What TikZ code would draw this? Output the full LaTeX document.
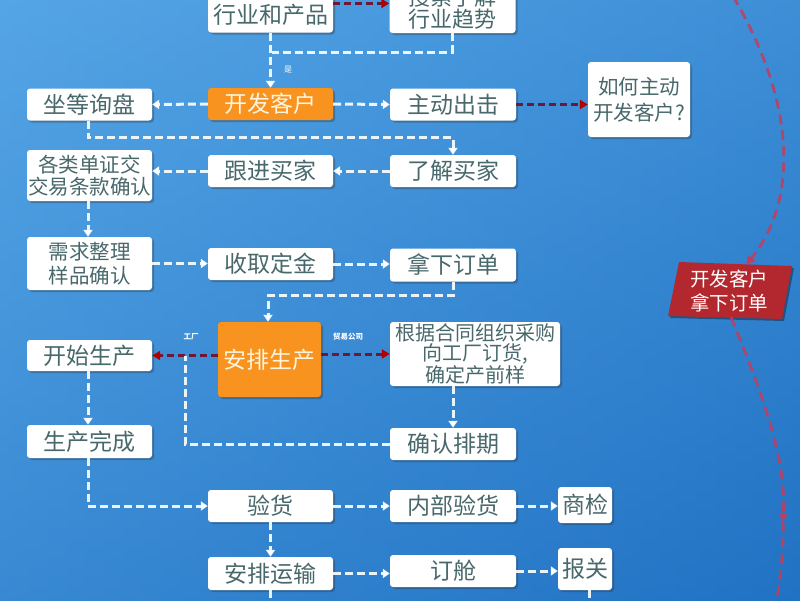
\documentclass[tikz,border=0pt]{standalone}
\usepackage{fontspec}
\newfontfamily\cjk{Noto Sans CJK SC}
\usetikzlibrary{arrows.meta,shadows,calc}
\definecolor{txt}{HTML}{48686B}
\definecolor{orng}{HTML}{F7931E}
\definecolor{otxt}{HTML}{FFF4DE}
\definecolor{dred}{HTML}{6E1838}
\definecolor{cred}{HTML}{C43C5C}
\definecolor{rboxc}{HTML}{B3282E}
\definecolor{bgL}{HTML}{4FA2E4}
\definecolor{bgR}{HTML}{2478C8}
\definecolor{bgT}{HTML}{5CAAE8}
\definecolor{bgB}{HTML}{1D6BBE}
\tikzset{
  box/.style={fill=white, rounded corners=3pt, minimum width=125pt, minimum height=32pt,
    inner sep=0pt, font=\cjk\fontsize{23}{24}\selectfont, text=txt, align=center,
    drop shadow={shadow xshift=2pt, shadow yshift=-2pt, opacity=0.35, fill=black!80}},
  two/.style={font=\cjk\fontsize{20.5}{22}\selectfont},
  obox/.style={box, fill=orng, text=otxt},
  tip/.style={-{Triangle[length=7pt,width=9pt]}},
  flow/.style={draw=white, draw opacity=0.9, line width=3pt, dash pattern=on 8pt off 4pt, tip},
  flowl/.style={draw=white, draw opacity=0.9, line width=3pt, dash pattern=on 8pt off 4pt},
  redl/.style={draw=dred, line width=3pt, dash pattern=on 7pt off 4pt,
    -{Triangle[length=8pt,width=9pt,color=red!70!black]}},
  curv/.style={draw=cred, draw opacity=0.85, line width=2.8pt, dash pattern=on 10pt off 6pt},
  small/.style={font=\cjk\bfseries\fontsize{7.5}{8}\selectfont, text=white, inner sep=0pt}
}
\begin{document}
\begin{tikzpicture}[x=1pt,y=-1pt]
\useasboundingbox (0,0) rectangle (800,600);
\clip (0,0) rectangle (800,600);
\shade[left color=bgL, right color=bgR] (0,0) rectangle (800,600);
\shade[top color=bgT, bottom color=bgB, opacity=0.45] (0,0) rectangle (800,600);

% top row (cut off)
\node[box, minimum height=58pt, font=\cjk\fontsize{23}{23}\selectfont] (b1) at (270.5,3.5) {\phantom{行业和产品}\\行业和产品};
\node[box, font=\cjk\fontsize{22}{22}\selectfont, minimum width=126pt, minimum height=50pt] (b2) at (452.5,8) {搜索了解\\行业趋势};

% row 2
\node[obox] (kf) at (270.5,104) {开发客户};
\node[box] (zd) at (89.5,104.5) {坐等询盘};
\node[box, minimum width=126pt] (zc) at (453,104.5) {主动出击};
\node[box, minimum width=102pt, minimum height=75pt, font=\cjk\fontsize{20.5}{26}\selectfont] (rh) at (639,99.5) {如何主动\\开发客户?};

% row 3
\node[box, minimum width=126pt] (lj) at (453,171) {了解买家};
\node[box] (gj) at (270.5,171) {跟进买家};
\node[box, two, minimum height=51pt] (gl) at (89.5,175.5) {各类单证交\\交易条款确认};

% row 4
\node[box, minimum height=53pt, font=\cjk\fontsize{20.5}{24}\selectfont] (xq) at (89.5,263.5) {需求整理\\样品确认};
\node[box] (sq) at (270.5,264) {收取定金};
\node[box, minimum width=126pt, minimum height=33pt] (nx) at (453,265) {拿下订单};

% row 5
\node[obox, minimum width=103pt, minimum height=75pt] (ap) at (269.5,359.5) {安排生产};
\node[box, minimum height=31pt] (ks) at (89.5,355.5) {开始生产};
\node[box, minimum width=170pt, minimum height=64pt, font=\cjk\fontsize{20}{20}\selectfont] (hj) at (475,354) {根据合同组织采购\\向工厂订货,\\确定产前样};

% row 6
\node[box, minimum width=126pt] (qr) at (453,444) {确认排期};
\node[box, minimum height=33pt] (sc) at (89.5,441.5) {生产完成};

% row 7
\node[box] (yh) at (270.5,506) {验货};
\node[box, minimum width=126pt] (nb) at (453,506) {内部验货};
\node[box, minimum width=54pt, minimum height=36pt] (sj) at (585,505) {商检};

% row 8
\node[box, minimum height=33pt] (ys) at (270.5,573.5) {安排运输};
\node[box, minimum width=126pt] (dc) at (453,571) {订舱};
\node[box, minimum width=54pt, minimum height=42pt] (bg) at (585,569) {报关};

% red box on the right
\fill[rboxc, drop shadow={shadow xshift=2pt, shadow yshift=-2pt, opacity=0.35, fill=black}]
  (679,262) -- (792,266) -- (782,319) -- (668,316) -- cycle;
\node[inner sep=0pt, minimum width=100pt, minimum height=52pt, align=center,
  font=\cjk\fontsize{19.5}{24}\selectfont, text=white] (rb) at (729,291) {开发客户\\拿下订单};

% helper coordinates
\coordinate (j1) at (272,52);
\coordinate (j2) at (185,356);
\coordinate (ctop) at (733,-4);
\coordinate (cmid) at (783,522);
\coordinate (cbot) at (776,606);

% connectors
\draw[redl] (b1.east) -- (b1.east -| b2.west);
\draw[flow] (b1.south) -- (kf.north);
\node[small, font=\cjk\fontsize{8}{8}\selectfont, text=white!80] (shi) at (288,70) {是};
\draw[flowl] (b2.south) |- (j1);
\draw[flow] (kf.west) -- (zd.east);
\draw[flow] (kf.east) -- (zc.west);
\draw[redl] (zc.east) -- (zc.east -| rh.west);
\draw[flow] ([xshift=-1.5pt]zd.south) -- ++(0,17) -| (lj.north);
\draw[flow] (lj.west) -- (gj.east);
\draw[flow] (gj.west) -- (gj.west -| gl.east);
\draw[flow] ([xshift=-1.5pt]gl.south) -- ([xshift=-1.5pt]xq.north);
\draw[flow] (xq.east) -- (xq.east -| sq.west);
\draw[flow] (sq.east) -- (sq.east -| nx.west);
\draw[flow] (nx.south) -- ++(0,14) -| ([xshift=-1.5pt]ap.north);
\draw[redl] (ap.west |- ks.east) -- (ks.east);
\draw[redl] (ap.east |- hj.west) -- (hj.west);
\node[small] (gc) at (191,337) {工厂};
\node[small] (my) at (348,337) {贸易公司};
\draw[flow] (qr.north |- hj.south) -- (qr.north);
\draw[flowl] (qr.west) -| (j2);
\draw[flow] ([xshift=-1.5pt]ks.south) -- ([xshift=-1.5pt]sc.north);
\draw[flow] ([xshift=-1.5pt]sc.south) |- (yh.west);
\draw[flow] (yh.east) -- (nb.west);
\draw[flow] (nb.east) -- (nb.east -| sj.west);
\draw[flow] (yh.south) -- (ys.north);
\draw[flow] (ys.east) -- (ys.east -| dc.west);
\draw[flow] (dc.east) -- (dc.east -| bg.west);
\draw[flowl] (ys.south) -- ++(0,20);
\draw[flowl] ([xshift=4pt]bg.south) -- ++(0,20);

% right curve
\draw[curv, -{Triangle[length=9pt,width=9pt,color=cred]}] (ctop) .. controls (800,110) and (795,205) .. ([xshift=17pt]rb.north);
\draw[curv, -{Triangle[length=9pt,width=9pt,color=cred]}] ([xshift=2pt]rb.south) .. controls (765,400) and (786,460) .. (cmid);
\draw[curv] (cmid) .. controls (784,555) and (779,585) .. (cbot);
\end{tikzpicture}
\end{document}
